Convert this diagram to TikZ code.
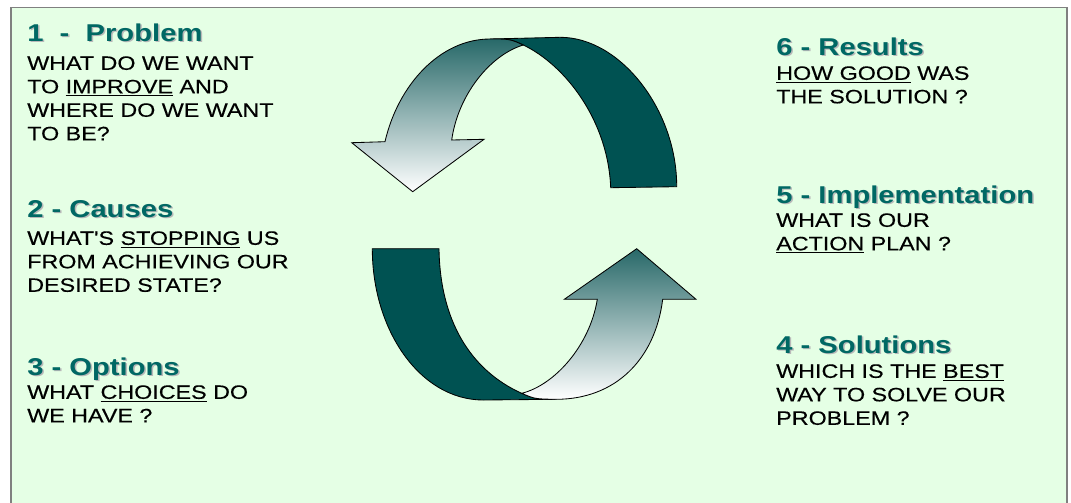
\documentclass[tikz,border=0pt]{standalone}
\usepackage{fontspec}
\setmainfont{Liberation Sans}[FakeStretch=1.2, Ligatures=TeXOff]
\newfontfamily\bodyfont{Liberation Sans}[FakeStretch=1.2, FakeBold=0.35, Ligatures=TeXOff]
\usetikzlibrary{positioning}

\definecolor{panelgreen}{RGB}{229,255,229}
\definecolor{framegray}{RGB}{128,128,128}
\definecolor{bandteal}{RGB}{0,82,82}
\definecolor{headteal}{RGB}{0,104,100}
\definecolor{shadegray}{RGB}{185,185,185}
\definecolor{fronttop}{RGB}{40,105,105}
\definecolor{frontmid}{RGB}{170,186,186}

\begin{document}
\begin{tikzpicture}[x=0.025cm, y=-0.025cm,
    frame/.style={draw=framegray, line width=1.4pt, fill=panelgreen},
    head/.style={anchor=base west, inner sep=0pt, font=\fontsize{17.3}{20}\selectfont\bfseries, text=headteal},
    headshadow/.style={head, text=shadegray},
    body/.style={anchor=north west, inner sep=0pt, align=left, font=\bodyfont\fontsize{13.8}{16.7}\selectfont},
    band/.style={draw=black, line width=0.6pt, fill=bandteal},
    front/.style={draw=black, line width=0.6pt, top color=fronttop, middle color=frontmid, bottom color=white}
]
\useasboundingbox (0,0) rectangle (1071,502);
\draw[frame] (11,7.5) rectangle (1067,530);

\draw[band] (490,39) -- (560,37.3) .. controls (620,37) and (677,110) .. (676.7,186.7) -- (610.7,187.7) .. controls (608,120) and (565,65) .. (523.3,45) .. controls (510,39) .. (490,39) -- cycle;
\draw[front] (490,39) .. controls (440,39) and (398,85) .. (385,141.7) -- (351.7,142.7) -- (412.7,191.7) -- (484,139.3) -- (451.7,140) .. controls (458,95) and (490,55) .. (523.3,45) .. controls (510,39) .. (490,39) -- cycle;

\draw[band] (372.3,248.7) -- (439,248.7) .. controls (440,320) and (470,370) .. (521.7,393.3) .. controls (535,399) .. (556.7,399.3) -- (483.3,400) .. controls (420,400) and (372.3,330) .. (372.3,248.7) -- cycle;
\draw[front] (521.7,393.3) .. controls (535,399) .. (556.7,399.3) .. controls (615,399) and (655,360) .. (662.7,299.3) -- (696,299.3) -- (636.7,248.7) -- (564.3,299.3) -- (597.3,299.3) .. controls (590,345) and (555,385) .. (521.7,393.3) -- cycle;

\node[headshadow] (problems) at (28.5,42.5) {1\ \ -\ \ Problem};
\node[head] (problem) at (27,41) {1\ \ -\ \ Problem};
\node[body] (problemtxt) at (27,56) {WHAT DO WE WANT\\TO \underline{IMPROVE} AND\\WHERE DO WE WANT\\TO BE?};

\node[headshadow] (causess) at (28.5,218.5) {2 - Causes};
\node[head] (causes) at (27,217) {2 - Causes};
\node[body] (causestxt) at (27,231) {WHAT'S \underline{STOPPING} US\\FROM ACHIEVING OUR\\DESIRED STATE?};

\node[headshadow] (optionss) at (28.5,376.5) {3 - Options};
\node[head] (options) at (27,375) {3 - Options};
\node[body] (optionstxt) at (27,385) {WHAT \underline{CHOICES} DO\\WE HAVE ?};

\node[headshadow] (resultss) at (777.5,56.5) {6 - Results};
\node[head] (results) at (776,55) {6 - Results};
\node[body] (resultstxt) at (776,66) {\underline{HOW GOOD} WAS\\THE SOLUTION ?};

\node[headshadow] (implements) at (777.5,204.5) {5 - Implementation};
\node[head] (implement) at (776,203) {5 - Implementation};
\node[body] (implementtxt) at (776,213) {WHAT IS OUR\\\underline{ACTION} PLAN ?};

\node[headshadow] (solutionss) at (777.5,354.5) {4 - Solutions};
\node[head] (solutions) at (776,353) {4 - Solutions};
\node[body] (solutionstxt) at (776,364) {WHICH IS THE \underline{BEST}\\WAY TO SOLVE OUR\\PROBLEM ?};
\end{tikzpicture}
\end{document}
